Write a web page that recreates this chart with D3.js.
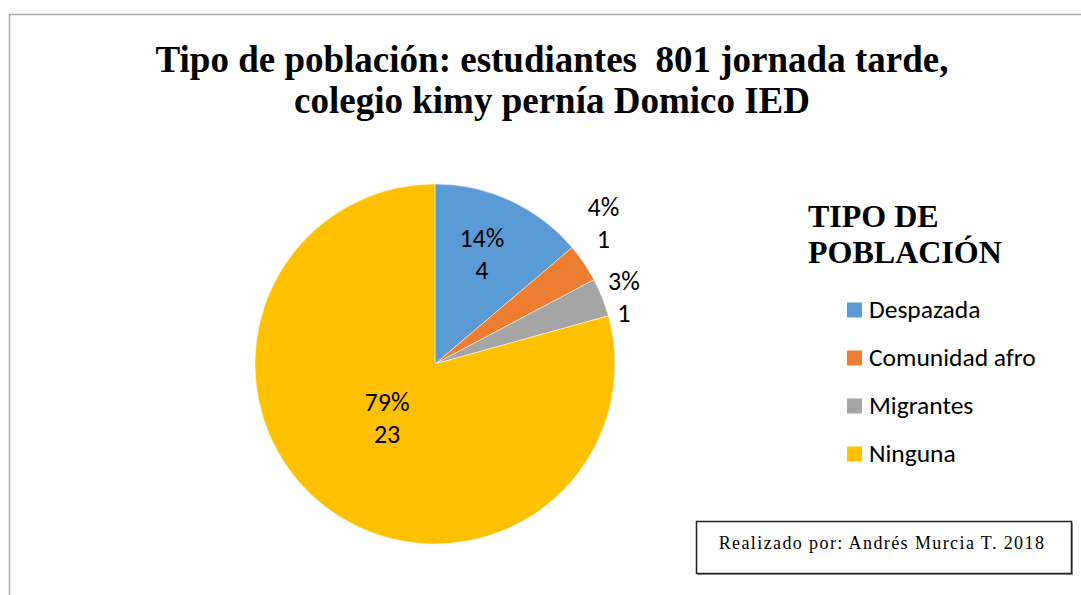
<!DOCTYPE html>
<html>
<head>
<meta charset="utf-8">
<script src="https://cdn.jsdelivr.net/npm/d3@7"></script>
<style>
  body { margin: 0; background: #fff; }
</style>
</head>
<body>
<svg id="chart" width="1081" height="595"></svg>
<script>
var categories = ["Despazada", "Comunidad afro", "Migrantes", "Ninguna"];
var values = [4, 1, 1, 23];
var pctLabels = ["14%", "4%", "3%", "79%"];
var colors = ["#5B9BD5", "#ED7D31", "#A5A5A5", "#FFC000"];

var svg = d3.select("#chart"),
    cx = 435, cy = 364, R = 180;

// outer frame (only top and left visible)
svg.append("path")
   .attr("d", "M9.5,595 L9.5,14.5 L1081,14.5")
   .attr("fill", "none")
   .attr("stroke", "#a6a6a6")
   .attr("stroke-width", 1.5);

// title
var title = svg.append("text")
   .attr("text-anchor", "middle")
   .attr("font-family", "Liberation Serif, Times New Roman, serif")
   .attr("font-weight", "bold")
   .attr("font-size", 37)
   .attr("fill", "#000");
title.append("tspan").attr("x", 552).attr("y", 72).text("Tipo de población: estudiantes\u00A0 801 jornada tarde,");
title.append("tspan").attr("x", 552).attr("y", 113).text("colegio kimy pernía Domico IED");

var color = d3.scaleOrdinal().domain(categories).range(colors);

var pie = d3.pie().sort(null).value(function(d) { return d.value; });
var data = categories.map(function(c, i) { return { name: c, value: values[i], pct: pctLabels[i] }; });
var arcs = pie(data);

var arc = d3.arc().innerRadius(0).outerRadius(R);

var g = svg.append("g").attr("transform", "translate(" + cx + "," + cy + ")");

g.selectAll(".slice")
 .data(arcs)
 .enter().append("path")
 .attr("class", "slice")
 .attr("d", arc)
 .attr("fill", function(d) { return color(d.data.name); })
 .attr("stroke", "#fff")
 .attr("stroke-width", 0.5);

// label positions: inside for big slices, outside (pushed apart) for thin ones
function labelPos(d) {
    var span = d.endAngle - d.startAngle;
    var r = span > Math.PI ? R * 0.44 : (span > 0.5 ? R * 0.62 : R * 1.13);
    var a = (d.startAngle + d.endAngle) / 2;
    return { x: Math.sin(a) * r, y: -Math.cos(a) * r, out: span <= 0.5 };
}
arcs.forEach(function(d) { d.lp = labelPos(d); });
var outs = arcs.filter(function(d) { return d.lp.out; });
for (var k = 0; k < 20; k++) {
    for (var i = 1; i < outs.length; i++) {
        var a = outs[i - 1].lp, b = outs[i].lp, gap = 74 - (b.y - a.y);
        if (gap > 0) { a.y -= gap / 2; b.y += gap / 2; }
    }
}

var lbl = g.selectAll(".lbl")
 .data(arcs)
 .enter().append("text")
 .attr("class", "lbl")
 .attr("text-anchor", "middle")
 .attr("font-family", "Carlito, Calibri, Lato, sans-serif")
 .attr("font-size", 26)
 .attr("fill", "#000")
 .attr("transform", function(d) { return "translate(" + d.lp.x + "," + d.lp.y + ")"; });
lbl.append("tspan").attr("x", 0).attr("y", -16).text(function(d) { return d.data.pct; });
lbl.append("tspan").attr("x", 0).attr("y", 16).text(function(d) { return d.data.value; });

// legend
var leg = svg.append("text")
   .attr("font-family", "Liberation Serif, Times New Roman, serif")
   .attr("font-weight", "bold")
   .attr("font-size", 32)
   .attr("fill", "#000");
leg.append("tspan").attr("x", 808).attr("y", 227).text("TIPO DE");
leg.append("tspan").attr("x", 808).attr("y", 263).text("POBLACIÓN");

var legY = d3.scalePoint().domain(categories).range([310, 454]);

var item = svg.selectAll(".leg")
   .data(categories)
   .enter().append("g")
   .attr("class", "leg")
   .attr("transform", function(d) { return "translate(847," + legY(d) + ")"; });
item.append("rect")
   .attr("x", 0).attr("y", -7.5)
   .attr("width", 15).attr("height", 15)
   .attr("fill", function(d) { return color(d); });
item.append("text")
   .attr("x", 22).attr("y", 8)
   .attr("font-family", "Carlito, Calibri, Lato, sans-serif")
   .attr("font-size", 25.5)
   .attr("fill", "#000")
   .text(function(d) { return d; });

// credit box
svg.append("rect")
   .attr("x", 698).attr("y", 523)
   .attr("width", 375).attr("height", 52)
   .attr("fill", "#999");
svg.append("rect")
   .attr("x", 696.5).attr("y", 521.5)
   .attr("width", 375).attr("height", 52)
   .attr("fill", "#fff")
   .attr("stroke", "#222")
   .attr("stroke-width", 1.5);
svg.append("text")
   .attr("x", 882).attr("y", 549)
   .attr("text-anchor", "middle")
   .attr("font-family", "Liberation Serif, Times New Roman, serif")
   .attr("font-size", 18)
   .attr("letter-spacing", 1.4)
   .attr("fill", "#000")
   .text("Realizado por: Andrés Murcia T. 2018");
</script>
</body>
</html>
